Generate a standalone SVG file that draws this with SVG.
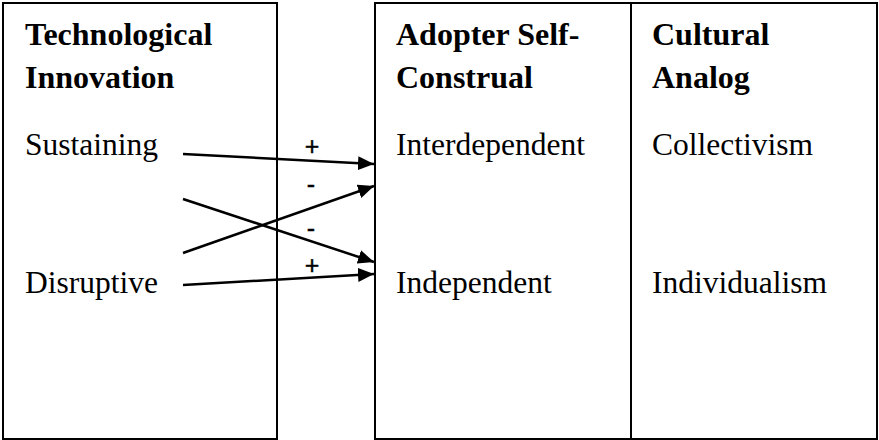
<svg xmlns="http://www.w3.org/2000/svg" width="879" height="440" viewBox="0 0 879 440">
<style>
.box{fill:#fff;stroke:#000;stroke-width:2}
.h{font-family:"Liberation Serif","Times New Roman",serif;font-weight:bold;font-size:32px;fill:#000}
.t{font-family:"Liberation Serif","Times New Roman",serif;font-size:31.5px;fill:#000}
.s{font-family:"Liberation Sans",Arial,sans-serif;font-size:25px;fill:#000;stroke:#000;stroke-width:0.4;text-anchor:middle}
.c{stroke:#000;stroke-width:2.5;fill:none;marker-end:url(#ah)}
</style>
<defs>
<marker id="ah" markerUnits="userSpaceOnUse" markerWidth="16" markerHeight="14" refX="16" refY="7" orient="auto">
<path d="M0,0 L16,7 L0,14 Z" fill="#000"/>
</marker>
</defs>
<rect width="879" height="440" fill="#fff"/>
<g id="innovation">
<rect class="box" x="3" y="3" width="274" height="436"/>
<text class="h" x="25" y="45">Technological</text>
<text class="h" x="25" y="88">Innovation</text>
<text class="t" x="25" y="155">Sustaining</text>
<text class="t" x="25" y="293">Disruptive</text>
</g>
<g id="self-construal">
<rect class="box" x="375" y="3" width="256" height="436"/>
<text class="h" x="396" y="45">Adopter Self-</text>
<text class="h" x="396" y="88">Construal</text>
<text class="t" x="396" y="155">Interdependent</text>
<text class="t" x="396" y="293">Independent</text>
</g>
<g id="cultural-analog">
<rect class="box" x="631" y="3" width="246" height="436"/>
<text class="h" x="652" y="45">Cultural</text>
<text class="h" x="652" y="88">Analog</text>
<text class="t" x="652" y="155">Collectivism</text>
<text class="t" x="652" y="293">Individualism</text>
</g>
<g id="connectors">
<line class="c" x1="183" y1="154" x2="374" y2="164"/>
<line class="c" x1="183" y1="253" x2="374" y2="186"/>
<line class="c" x1="183" y1="199" x2="374" y2="262"/>
<line class="c" x1="183" y1="285" x2="374" y2="274"/>
<text class="s" x="312" y="155">+</text>
<text class="s" x="311" y="193">-</text>
<text class="s" x="311" y="237">-</text>
<text class="s" x="312" y="274">+</text>
</g>
</svg>
